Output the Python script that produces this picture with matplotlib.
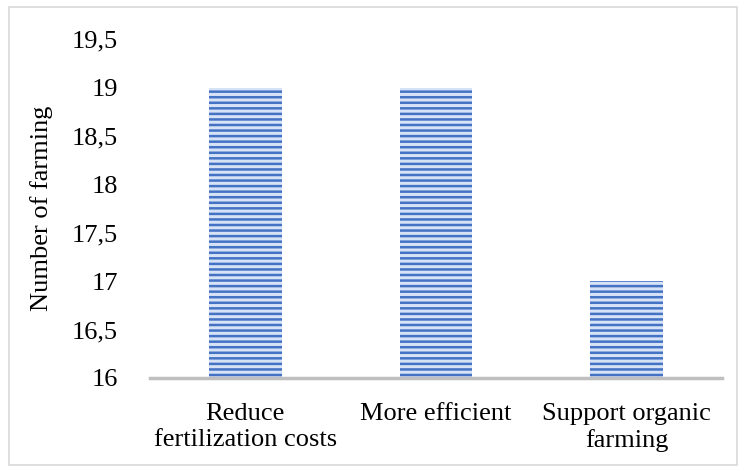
import matplotlib
matplotlib.use("Agg")
from matplotlib import pyplot as plt
from matplotlib.patches import Rectangle

categories = ["Reduce\nfertilization costs", "More efficient", "Support organic\nfarming"]
values = [19, 19, 17]
yticks = [16, 16.5, 17, 17.5, 18, 18.5, 19, 19.5]
ytick_labels = ["16", "16,5", "17", "17,5", "18", "18,5", "19", "19,5"]

plt.rcParams['font.family'] = ['Liberation Serif', 'DejaVu Serif']
plt.rcParams['hatch.linewidth'] = 1.8

fig = plt.figure(figsize=(7.39, 4.66), dpi=100)
ax = fig.add_axes([0.203, 0.189, 0.774, 0.727])

x = range(len(categories))
ax.bar(x, [v - 16 for v in values], bottom=16, width=0.38,
       color='#d6e2f5', edgecolor='#4472c4', linewidth=0, hatch='---')

ax.set_ylim(16, 19.5)
ax.set_xlim(-0.5, 2.5)
ax.set_yticks(yticks)
ax.set_yticklabels(ytick_labels, fontsize=19)
ax.set_xticks(list(x))
ax.set_xticklabels(categories, fontsize=19, linespacing=1.22)
ax.tick_params(axis='both', length=0)
ax.tick_params(axis='y', pad=23)
ax.tick_params(axis='x', pad=18)
for s in ['top', 'right', 'left']:
    ax.spines[s].set_visible(False)
ax.spines['bottom'].set_color('#bfbfbf')
ax.spines['bottom'].set_linewidth(2.5)
ax.set_ylabel("Number of farming", fontsize=19, labelpad=14)

# outer frame
fig.patches.append(Rectangle((0.012, 0.003), 0.985, 0.982, transform=fig.transFigure,
                             fill=False, edgecolor='#d9d9d9', linewidth=1.2))

fig.savefig("out.png", dpi=100)
